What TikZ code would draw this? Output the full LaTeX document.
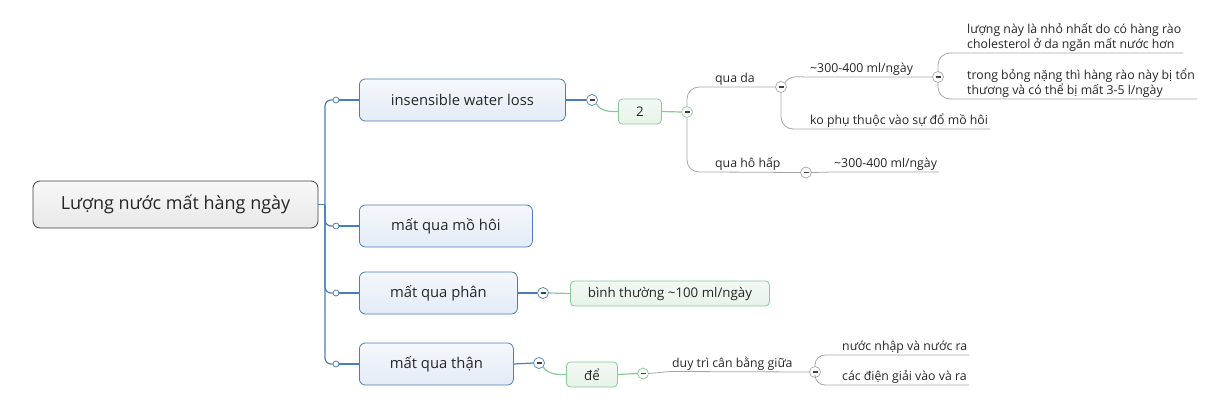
\documentclass[tikz,border=0pt]{standalone}
\usepackage{fontspec}
\setmainfont{Open Sans}
\usetikzlibrary{positioning}
\definecolor{topicblue}{HTML}{4A7EBB}
\definecolor{topictop}{HTML}{F5F8FC}
\definecolor{topicbot}{HTML}{E3EBF6}
\definecolor{subgreen}{HTML}{86CB96}
\definecolor{subtop}{HTML}{F3F9F4}
\definecolor{subbot}{HTML}{E6F3E8}
\definecolor{leafgray}{HTML}{A6A6A6}
\definecolor{rootline}{HTML}{404040}
\definecolor{roottop}{HTML}{F8F8F8}
\definecolor{rootbot}{HTML}{E8E8E8}
\tikzset{
	rootbox/.style={draw=rootline, top color=roottop, bottom color=rootbot, rounded corners=7pt, line width=0.8pt, minimum width=285pt, minimum height=47pt, font=\fontsize{18}{21}\selectfont, text=black!85},
	topic/.style={draw=topicblue, top color=topictop, bottom color=topicbot, rounded corners=6pt, line width=0.8pt, minimum height=42pt, anchor=west, font=\fontsize{14.8}{17}\selectfont, text=black!85},
	subtopic/.style={draw=subgreen, top color=subtop, bottom color=subbot, rounded corners=4pt, line width=0.8pt, minimum height=25pt, anchor=west, font=\fontsize{13.3}{15}\selectfont, text=black!85},
	leaf/.style={anchor=south west, inner xsep=2pt, inner ysep=1.5pt, text depth=2.5pt, align=left, font=\fontsize{12.3}{15}\selectfont, text=black!85},
	fold/.style={circle, draw=#1, fill=white, minimum size=11pt, inner sep=0pt, line width=0.7pt,
		path picture={\draw[line width=1.3pt, black!75] ([xshift=-2.5pt]path picture bounding box.center) -- ([xshift=2.5pt]path picture bounding box.center);}},
	knob/.style={circle, draw=topicblue, fill=white, minimum size=6pt, inner sep=0pt, line width=0.8pt},
	blueline/.style={topicblue, line width=1.2pt},
	greenline/.style={subgreen, line width=1.2pt},
	grayline/.style={leafgray, line width=0.8pt},
}
\begin{document}
\begin{tikzpicture}[x=1pt, y=-1pt]
	\useasboundingbox (0,0) rectangle (1210,418);
	%%Hauptthema
	\node[rootbox] (root) at (175.5,204.5) {Lượng nước mất hàng ngày};
	\coordinate (hub) at (325,204.5);
	\draw[blueline] (root.east) -- (hub);
	%%Zweige
	\node[topic, minimum width=206pt] (iwl) at (359,100) {insensible water loss};
	\node[topic, minimum width=173pt] (sweat) at (359,226) {mất qua mồ hôi};
	\node[topic, minimum width=158pt] (feces) at (359,293) {mất qua phân};
	\node[topic, minimum width=154pt] (kidney) at (359,364) {mất qua thận};
	\foreach \n in {iwl,sweat,feces,kidney}{
		\node[knob] (k-\n) at ([xshift=-23pt]\n.west) {};
		\draw[blueline, rounded corners=6pt] (hub) |- (k-\n.west);
		\draw[blueline] (k-\n.east) -- (\n.west);
	}
	%%insensible water loss
	\node[fold=topicblue] (f-iwl) at (592,100) {};
	\draw[blueline] (iwl.east) -- (f-iwl.west);
	\node[subtopic, minimum width=43pt] (two) at (618,111.5) {2};
	\draw[greenline] (f-iwl.south east) .. controls +(6,7) and +(-12,0) .. (two.west);
	\node[fold=subgreen] (f-two) at (687,112) {};
	\draw[greenline] (two.east) -- (f-two.west);
	%%qua da
	\node[leaf] (da) at (713,87) {qua da};
	\node[fold=leafgray] (f-da) at (781,87) {};
	\draw[grayline, rounded corners=12pt] (f-two.north) |- (da.south west) -- (f-da.west);
	\node[leaf] (da-val) at (808,77) {\char`\~300-400 ml/ngày};
	\node[fold=leafgray] (f-daval) at (938,77) {};
	\draw[grayline] (f-da.north east) .. controls +(4,-8) and +(-10,0) .. (da-val.south west) -- (f-daval.west);
	\node[leaf] (da-ko) at (808,129) {ko phụ thuộc vào sự đổ mồ hôi};
	\draw[grayline, rounded corners=12pt] (f-da.south) |- (da-ko.south west) -- (da-ko.south east);
	\node[leaf] (da-min) at (965,53) {lượng này là nhỏ nhất do có hàng rào\\cholesterol ở da ngăn mất nước hơn};
	\node[leaf] (da-burn) at (965,99) {trong bỏng nặng thì hàng rào này bị tổn\\thương và có thể bị mất 3-5 l/ngày};
	\draw[grayline, rounded corners=12pt] (f-daval.north) |- (da-min.south west) -- (da-min.south east);
	\draw[grayline, rounded corners=12pt] (f-daval.south) |- (da-burn.south west) -- (da-burn.south east);
	%%qua ho hap
	\node[leaf] (hh) at (713,172) {qua hô hấp};
	\node[fold=leafgray] (f-hh) at (806,172.5) {};
	\draw[grayline, rounded corners=12pt] (f-two.south) |- (hh.south west) -- (f-hh.west);
	\node[leaf] (hh-val) at (832,172) {\char`\~300-400 ml/ngày};
	\draw[grayline] (f-hh.east) -- (hh-val.south west) -- (hh-val.south east);
	%%mat qua phan
	\node[fold=topicblue] (f-feces) at (543,293) {};
	\draw[blueline] (feces.east) -- (f-feces.west);
	\node[subtopic, minimum width=199pt] (normal) at (570,293.5) {bình thường \char`\~100 ml/ngày};
	\draw[greenline] (f-feces.east) -- (normal.west);
	%%mat qua than
	\node[fold=topicblue] (f-kidney) at (539,363) {};
	\draw[blueline] (kidney.east) -- (f-kidney.west);
	\node[subtopic, minimum width=51pt] (de) at (566,374.5) {để};
	\draw[greenline] (f-kidney.south east) .. controls +(6,7) and +(-12,0) .. (de.west);
	\node[fold=subgreen] (f-de) at (643,373.5) {};
	\draw[greenline] (de.east) -- (f-de.west);
	\node[leaf] (bal) at (670,371.5) {duy trì cân bằng giữa};
	\node[fold=leafgray] (f-bal) at (815,372) {};
	\draw[grayline] (f-de.east) -- (bal.south west) -- (f-bal.west);
	\node[leaf] (water) at (840,355) {nước nhập và nước ra};
	\node[leaf] (elec) at (840,385) {các điện giải vào và ra};
	\draw[grayline, rounded corners=10pt] (f-bal.north) |- (water.south west) -- (water.south east);
	\draw[grayline, rounded corners=10pt] (f-bal.south) |- (elec.south west) -- (elec.south east);
\end{tikzpicture}
\end{document}
